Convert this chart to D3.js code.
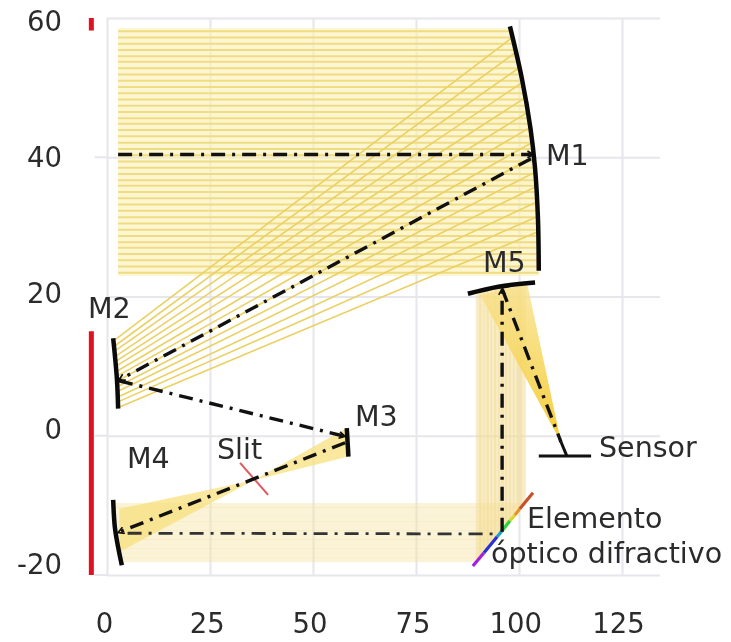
<!DOCTYPE html>
<html>
<head>
<meta charset="utf-8">
<script src="https://cdn.jsdelivr.net/npm/d3@7"></script>
<style>
  html, body { margin: 0; background: #fff; }
  svg { display: block; filter: blur(0.6px); }
  text { font-family: "DejaVu Sans", sans-serif; fill: #2b2b2b; }
</style>
</head>
<body>
<div id="chart"></div>
<script>
const xTicks = [0, 25, 50, 75, 100, 125];
const yTicks = [-20, 0, 20, 40, 60];

// collimated rays reaching M1: height and x where they land on the mirror
const rayY = [58.1,57.2,56.3,55.4,54.5,53.7,52.8,51.9,51.0,50.1,49.2,48.3,47.4,46.5,45.6,44.8,43.9,43.0,42.1,41.2,
  40.3,39.4,38.5,37.6,36.7,35.9,35.0,34.1,33.2,32.3,31.4,30.5,29.6,28.7,27.8,27.0,26.1,25.2,24.3,23.4];
const rayEndX = [98.1,98.5,98.8,99.1,99.5,99.8,100.1,100.5,100.8,101.0,101.3,101.6,101.9,102.1,102.4,102.6,102.8,103.0,103.2,103.3,
  103.5,103.7,103.9,104.0,104.1,104.2,104.3,104.4,104.5,104.5,104.6,104.6,104.7,104.7,104.7,104.8,104.8,104.8,104.8,104.8];
const rayStartX = 2.7;

// fan M1 -> M2
const fanM1X = [98.6,99.5,100.4,101.2,101.9,102.5,103,103.4,103.7,104,104.2,104.4,104.5,104.6];
const fanM1Y = [57.3,55.2,53,50.9,48.7,46.6,44.4,42.2,40.1,37.9,35.8,33.6,31.5,29.3];
const fanM2X = [2.0,2.1,2.2,2.3,2.4,2.5,2.5,2.6,2.6,2.7,2.7,2.8,2.8,2.9];
const fanM2Y = [13.8,13.0,12.3,11.5,10.8,10.1,9.3,8.6,7.9,7.1,6.4,5.6,4.9,4.1];

// beam M4 -> grating -> M5
const beamY = [-10,-10.6,-11.3,-12,-12.6,-13.3,-13.9,-14.6,-15.2,-15.9,-16.5,-17.2,-17.8];
const beamM4X = [1.6,1.6,1.7,1.8,1.9,2,2,2.2,2.3,2.4,2.6,2.9,3.1];
const beamDoeX = [101,100.1,99.2,98.2,97.3,96.4,95.6,94.6,93.8,92.8,92,91,90.2];
const beamM5Y = [21.9,21.9,21.8,21.8,21.7,21.6,21.5,21.4,21.3,21.1,21,20.8,20.6];

// cones
const coneM3Slit = [[58.4,1.2],[58.4,-3],[35.6,-6.4]];
const coneSlitM4 = [[35.6,-6.4],[3,-10.5],[3,-16.7]];
const coneM5Sensor = [[90.6,20.2],[102,21.8],[110.2,-0.9]];

// mirrors
const mirrorM1 = [[97.8,58.8],[100.7,51.3],[102.8,44.1],[103.9,38.4],[104.6,31.2],[104.8,23.7]];
const mirrorM2 = [[1.5,14],[2.4,8.2],[2.7,3.9]];
const mirrorM3 = [[58.2,1.1],[58.6,-3]];
const mirrorM4 = [[1.5,-9.2],[1.9,-13.1],[2.7,-16],[3.6,-18.6]];
const mirrorM5 = [[87.6,20.4],[95,21.4],[103.9,22]];

const chiefRays = [
  [[2.7,40.4],[103.5,40.4]],
  [[102.9,39.8],[2.9,8.0]],
  [[2.9,7.9],[57.8,-0.1]],
  [[57.8,-1.0],[2.7,-13.9]],
  [[95.9,21.1],[110.2,-0.9]]
];
const chiefLower = [[[5,-14.0],[94.9,-14.1]]];
const chiefUp = [[95.9,-13.8],[95.9,21.1]];

const redBars = [[[-3.8,60],[-3.8,58.2]], [[-3.8,15],[-3.8,-20]]];
const slit = [[32.3,-3.9],[39.1,-8.5]];
const sensorLine = [[104.8,-2.9],[117.5,-2.9]];
const sensorStem = [[110.2,-0.9],[111.6,-2.9]];

const doeX = [88.8,91.5,94.7,96.1,97.8,99,100.2,103.4];
const doeY = [-18.7,-16.8,-14.5,-13.5,-12.2,-11.4,-10.5,-8.2];
const doeColors = ['#a020e0','#2a30d8','#18a0c8','#30d040','#d8d830','#e89020','#c8502a'];

const labels = [
  ['M1', 546, 165], ['M2', 88, 318], ['M3', 355, 426], ['M4', 127, 468], ['M5', 483, 272],
  ['Slit', 217, 459], ['Sensor', 599, 457], ['Elemento', 527, 528], ['óptico difractivo', 491, 563]
];

const width = 731;
const height = 642;
const x = d3.scaleLinear().domain([0, 125]).range([107, 622]);
const y = d3.scaleLinear().domain([-20, 60]).range([575, 18]);
// tick labels sit a little off the grid in the original
const xLabel = d3.scaleLinear().domain([0, 125]).range([104, 618]);
const yLabel = d3.scaleLinear().domain([-20, 60]).range([565, 22]);

const svg = d3.select('#chart').append('svg')
  .attr('width', width)
  .attr('height', height)
  .attr('viewBox', `0 0 ${width} ${height}`);

const defs = svg.append('defs');
defs.append('marker')
  .attr('id', 'arrow')
  .attr('viewBox', '0 0 12 12')
  .attr('refX', 11).attr('refY', 6)
  .attr('markerWidth', 8).attr('markerHeight', 8)
  .attr('markerUnits', 'userSpaceOnUse')
  .attr('orient', 'auto')
  .append('path')
  .attr('d', 'M2,1 L11,6 L2,11')
  .attr('fill', 'none')
  .attr('stroke', '#111')
  .attr('stroke-width', 2.6);
const coneGrad = defs.append('linearGradient')
  .attr('id', 'coneGrad').attr('x1', 0).attr('y1', 0).attr('x2', 0).attr('y2', 1);
coneGrad.append('stop').attr('offset', '0%').attr('stop-color', '#f8e088').attr('stop-opacity', 0.75);
coneGrad.append('stop').attr('offset', '100%').attr('stop-color', '#f5cd35').attr('stop-opacity', 1);

const line = d3.line().x(d => x(d[0])).y(d => y(d[1]));
const curve = d3.line().x(d => x(d[0])).y(d => y(d[1])).curve(d3.curveCatmullRom);

// grid
const gridX = svg.append('g')
  .attr('transform', `translate(0, ${y(-20)})`)
  .call(d3.axisBottom(x).tickValues(xTicks).tickFormat('').tickSize(-(y(-20) - y(60))));
const gridY = svg.append('g')
  .attr('transform', `translate(${x(0)}, 0)`)
  .call(d3.axisLeft(y).tickValues(yTicks).tickFormat('').tickSize(-(660 - x(0))));
gridX.select('.domain').remove();
gridY.select('.domain').remove();
svg.selectAll('.tick line').attr('stroke', '#e6e6ec').attr('stroke-width', 2);
// short stubs left of the frame
svg.append('g').selectAll('line')
  .data(yTicks.filter(d => d === 40 || d === 0 || d === -20))
  .join('line')
  .attr('x1', x(-3)).attr('x2', x(0))
  .attr('y1', d => y(d)).attr('y2', d => y(d))
  .attr('stroke', '#e6e6ec').attr('stroke-width', 2);

// tick labels
const xAxis = svg.append('g')
  .attr('transform', 'translate(0, 613)')
  .call(d3.axisBottom(xLabel).tickValues(xTicks).tickSize(0).tickPadding(0).tickFormat(d => String(d)));
const yAxis = svg.append('g')
  .attr('transform', 'translate(62, 0)')
  .call(d3.axisLeft(yLabel).tickValues(yTicks).tickSize(0).tickPadding(0).tickFormat(d => String(d)));
xAxis.select('.domain').remove();
yAxis.select('.domain').remove();
svg.selectAll('.tick text').attr('font-size', 27.5).attr('font-family', '"DejaVu Sans", sans-serif').attr('fill', '#2b2b2b');

// red bars
svg.append('g').selectAll('path').data(redBars).join('path')
  .attr('d', line).attr('stroke', '#e01222').attr('stroke-width', 5).attr('fill', 'none');

// parallel rays to M1
const rays = rayY.map((v, i) => [[rayStartX, v], [rayEndX[i], v]]);
svg.append('g').selectAll('path').data(rays).join('path')
  .attr('d', line).attr('stroke', '#fbf0b4').attr('stroke-width', 6.5).attr('opacity', 0.6).attr('fill', 'none');
svg.append('g').selectAll('path').data(rays).join('path')
  .attr('d', line).attr('stroke', '#efdc82').attr('stroke-width', 2).attr('fill', 'none');

// fan to M2
const fan = fanM1X.map((v, i) => [[v, fanM1Y[i]], [fanM2X[i], fanM2Y[i]]]);
svg.append('g').selectAll('path').data(fan).join('path')
  .attr('d', line).attr('stroke', '#ebd064').attr('stroke-width', 1.6).attr('fill', 'none');

// wide beams
const beamH = beamY.map((v, i) => [[beamM4X[i], v], [beamDoeX[i], v]]);
const beamV = beamY.map((v, i) => [[beamDoeX[i], v], [beamDoeX[i], beamM5Y[i]]]);
svg.append('g').selectAll('path').data(beamH).join('path')
  .attr('d', line).attr('stroke', '#f6e3a0').attr('stroke-width', 5).attr('opacity', 0.42).attr('fill', 'none');
svg.append('g').selectAll('path').data(beamV).join('path')
  .attr('d', line).attr('stroke', '#f3dc92').attr('stroke-width', 5.5).attr('opacity', 0.5).attr('fill', 'none');

// cones
svg.append('g').selectAll('path').data([coneM3Slit, coneSlitM4]).join('path')
  .attr('d', d => line(d) + 'Z').attr('fill', '#f7e07e').attr('opacity', 0.75);
svg.append('path')
  .attr('d', line(coneM5Sensor) + 'Z').attr('fill', 'url(#coneGrad)');

// grating
const doeSegs = doeColors.map((c, i) => ({ c, d: [[doeX[i], doeY[i]], [doeX[i + 1], doeY[i + 1]]] }));
svg.append('g').selectAll('path').data(doeSegs).join('path')
  .attr('d', d => line(d.d)).attr('stroke', d => d.c).attr('stroke-width', 3.2).attr('fill', 'none');

// slit
svg.append('path').attr('d', line(slit)).attr('stroke', '#e2575c').attr('stroke-width', 2).attr('fill', 'none');

// chief ray
svg.append('g').selectAll('path').data(chiefRays).join('path')
  .attr('d', line).attr('stroke', '#111').attr('stroke-width', 3.4)
  .attr('stroke-dasharray', '14 7 3 7').attr('fill', 'none')
  .attr('marker-end', (d, i) => i < 4 ? 'url(#arrow)' : null);
svg.append('g').selectAll('path').data(chiefLower).join('path')
  .attr('d', line).attr('stroke', '#333').attr('stroke-width', 2.8)
  .attr('stroke-dasharray', '14 7 3 7').attr('fill', 'none');
svg.append('path').attr('d', line(chiefUp)).attr('stroke', '#111').attr('stroke-width', 3.4)
  .attr('stroke-dasharray', '14 7 3 7').attr('fill', 'none').attr('marker-end', 'url(#arrow)');

// mirrors and sensor
svg.append('g').selectAll('path').data([mirrorM1, mirrorM2, mirrorM3, mirrorM4, mirrorM5]).join('path')
  .attr('d', curve).attr('stroke', '#0a0a0a').attr('stroke-width', 4.5).attr('fill', 'none');
svg.append('g').selectAll('path').data([sensorLine, sensorStem]).join('path')
  .attr('d', line).attr('stroke', '#111').attr('stroke-width', 3).attr('fill', 'none');

// text
svg.append('g').selectAll('text').data(labels).join('text')
  .attr('x', d => d[1]).attr('y', d => d[2])
  .attr('font-size', 28.5)
  .text(d => d[0]);
</script>
</body>
</html>
